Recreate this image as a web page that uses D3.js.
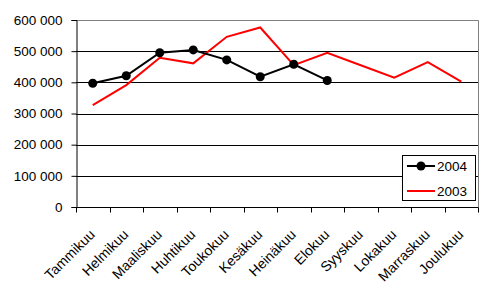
<!doctype html>
<html>
<head>
<meta charset="utf-8">
<script src="https://d3js.org/d3.v7.min.js"></script>
<style>
  body { margin: 0; background: #fff; }
  text { font-family: "Liberation Sans", Arial, sans-serif; font-size: 13.5px; fill: #000; }
  .xlab { font-size: 14px; }
</style>
</head>
<body>
<div id="chart"></div>
<script>
// months and values
var months = ["Tammikuu", "Helmikuu", "Maaliskuu", "Huhtikuu", "Toukokuu", "Kesäkuu",
              "Heinäkuu", "Elokuu", "Syyskuu", "Lokakuu", "Marraskuu", "Joulukuu"];
var values2004 = [397000, 421000, 495000, 504000, 472000, 418000, 458000, 406000];
var values2003 = [327000, 391000, 479000, 461000, 546000, 576000, 455000, 495000, 455000, 415000, 465000, 402000];
var yTicks = [0, 100000, 200000, 300000, 400000, 500000, 600000];

var W = 497, H = 290;
var pLeft = 76, pRight = 478, pTop = 20, pBottom = 207;

var svg = d3.select("#chart").append("svg")
    .attr("width", W).attr("height", H);

var x = d3.scaleBand().domain(months).range([pLeft, pRight]);
var y = d3.scaleLinear().domain([0, 600000]).range([pBottom, pTop]);

var fmt = function(d) { return d3.format(",")(d).replace(/,/g, " "); };

// gridlines
svg.append("g").selectAll("line")
    .data(yTicks.filter(function(d) { return d > 0 && d < 600000; }))
    .enter().append("line")
    .attr("x1", pLeft).attr("x2", pRight)
    .attr("y1", function(d) { return Math.round(y(d)) + 0.5; })
    .attr("y2", function(d) { return Math.round(y(d)) + 0.5; })
    .attr("stroke", "#000").attr("stroke-width", 1);

// plot border (top, right) gray
svg.append("path")
    .attr("d", "M" + pLeft + "," + (pTop + 0.5) + "H" + (pRight + 0.5) + "V" + pBottom)
    .attr("fill", "none").attr("stroke", "#808080");

// y axis
var yAxis = svg.append("g")
    .attr("transform", "translate(" + (pLeft + 0.5) + ",0)")
    .call(d3.axisLeft(y).tickValues(yTicks).tickFormat(fmt).tickSize(5).tickPadding(9));
yAxis.select(".domain").attr("stroke", "#000");
yAxis.selectAll(".tick line").attr("stroke", "#000");
yAxis.attr("font-size", null).attr("font-family", null);

// x axis with ticks at band edges
var xg = svg.append("g").attr("transform", "translate(0," + (pBottom + 0.5) + ")");
xg.append("line").attr("x1", pLeft).attr("x2", pRight + 0.5).attr("stroke", "#000");
var edges = months.map(function(m) { return x(m); }).concat([pRight]);
xg.selectAll("line.tk").data(edges).enter().append("line")
    .attr("class", "tk")
    .attr("x1", function(d) { return Math.round(d) + 0.5; })
    .attr("x2", function(d) { return Math.round(d) + 0.5; })
    .attr("y1", 0).attr("y2", 5).attr("stroke", "#000");
xg.selectAll("text").data(months).enter().append("text")
    .attr("class", "xlab")
    .attr("text-anchor", "end")
    .attr("transform", function(d) {
        return "translate(" + (x(d) + x.bandwidth() / 2 - 4) + ",21) rotate(-45)";
    })
    .attr("dy", "0.7em")
    .text(function(d) { return d; });

var line = d3.line()
    .x(function(d, i) { return x(months[i]) + x.bandwidth() / 2; })
    .y(function(d) { return y(d); });

// 2003
svg.append("path").datum(values2003)
    .attr("fill", "none").attr("stroke", "#ff0000").attr("stroke-width", 2)
    .attr("d", line);

// 2004
svg.append("path").datum(values2004)
    .attr("fill", "none").attr("stroke", "#000").attr("stroke-width", 2)
    .attr("d", line);
svg.append("g").selectAll("circle").data(values2004).enter().append("circle")
    .attr("cx", function(d, i) { return x(months[i]) + x.bandwidth() / 2; })
    .attr("cy", function(d) { return y(d); })
    .attr("r", 4.5).attr("fill", "#000");

// legend
var lg = svg.append("g");
lg.append("rect").attr("x", 402.5).attr("y", 155.5).attr("width", 73).attr("height", 45)
    .attr("fill", "#fff").attr("stroke", "#000");
lg.append("line").attr("x1", 407).attr("x2", 435).attr("y1", 166).attr("y2", 166)
    .attr("stroke", "#000").attr("stroke-width", 2);
lg.append("circle").attr("cx", 421).attr("cy", 166).attr("r", 4.5).attr("fill", "#000");
lg.append("text").attr("x", 437).attr("y", 171).text("2004");
lg.append("line").attr("x1", 407).attr("x2", 435).attr("y1", 191).attr("y2", 191)
    .attr("stroke", "#ff0000").attr("stroke-width", 2);
lg.append("text").attr("x", 437).attr("y", 196).text("2003");
</script>
</body>
</html>
